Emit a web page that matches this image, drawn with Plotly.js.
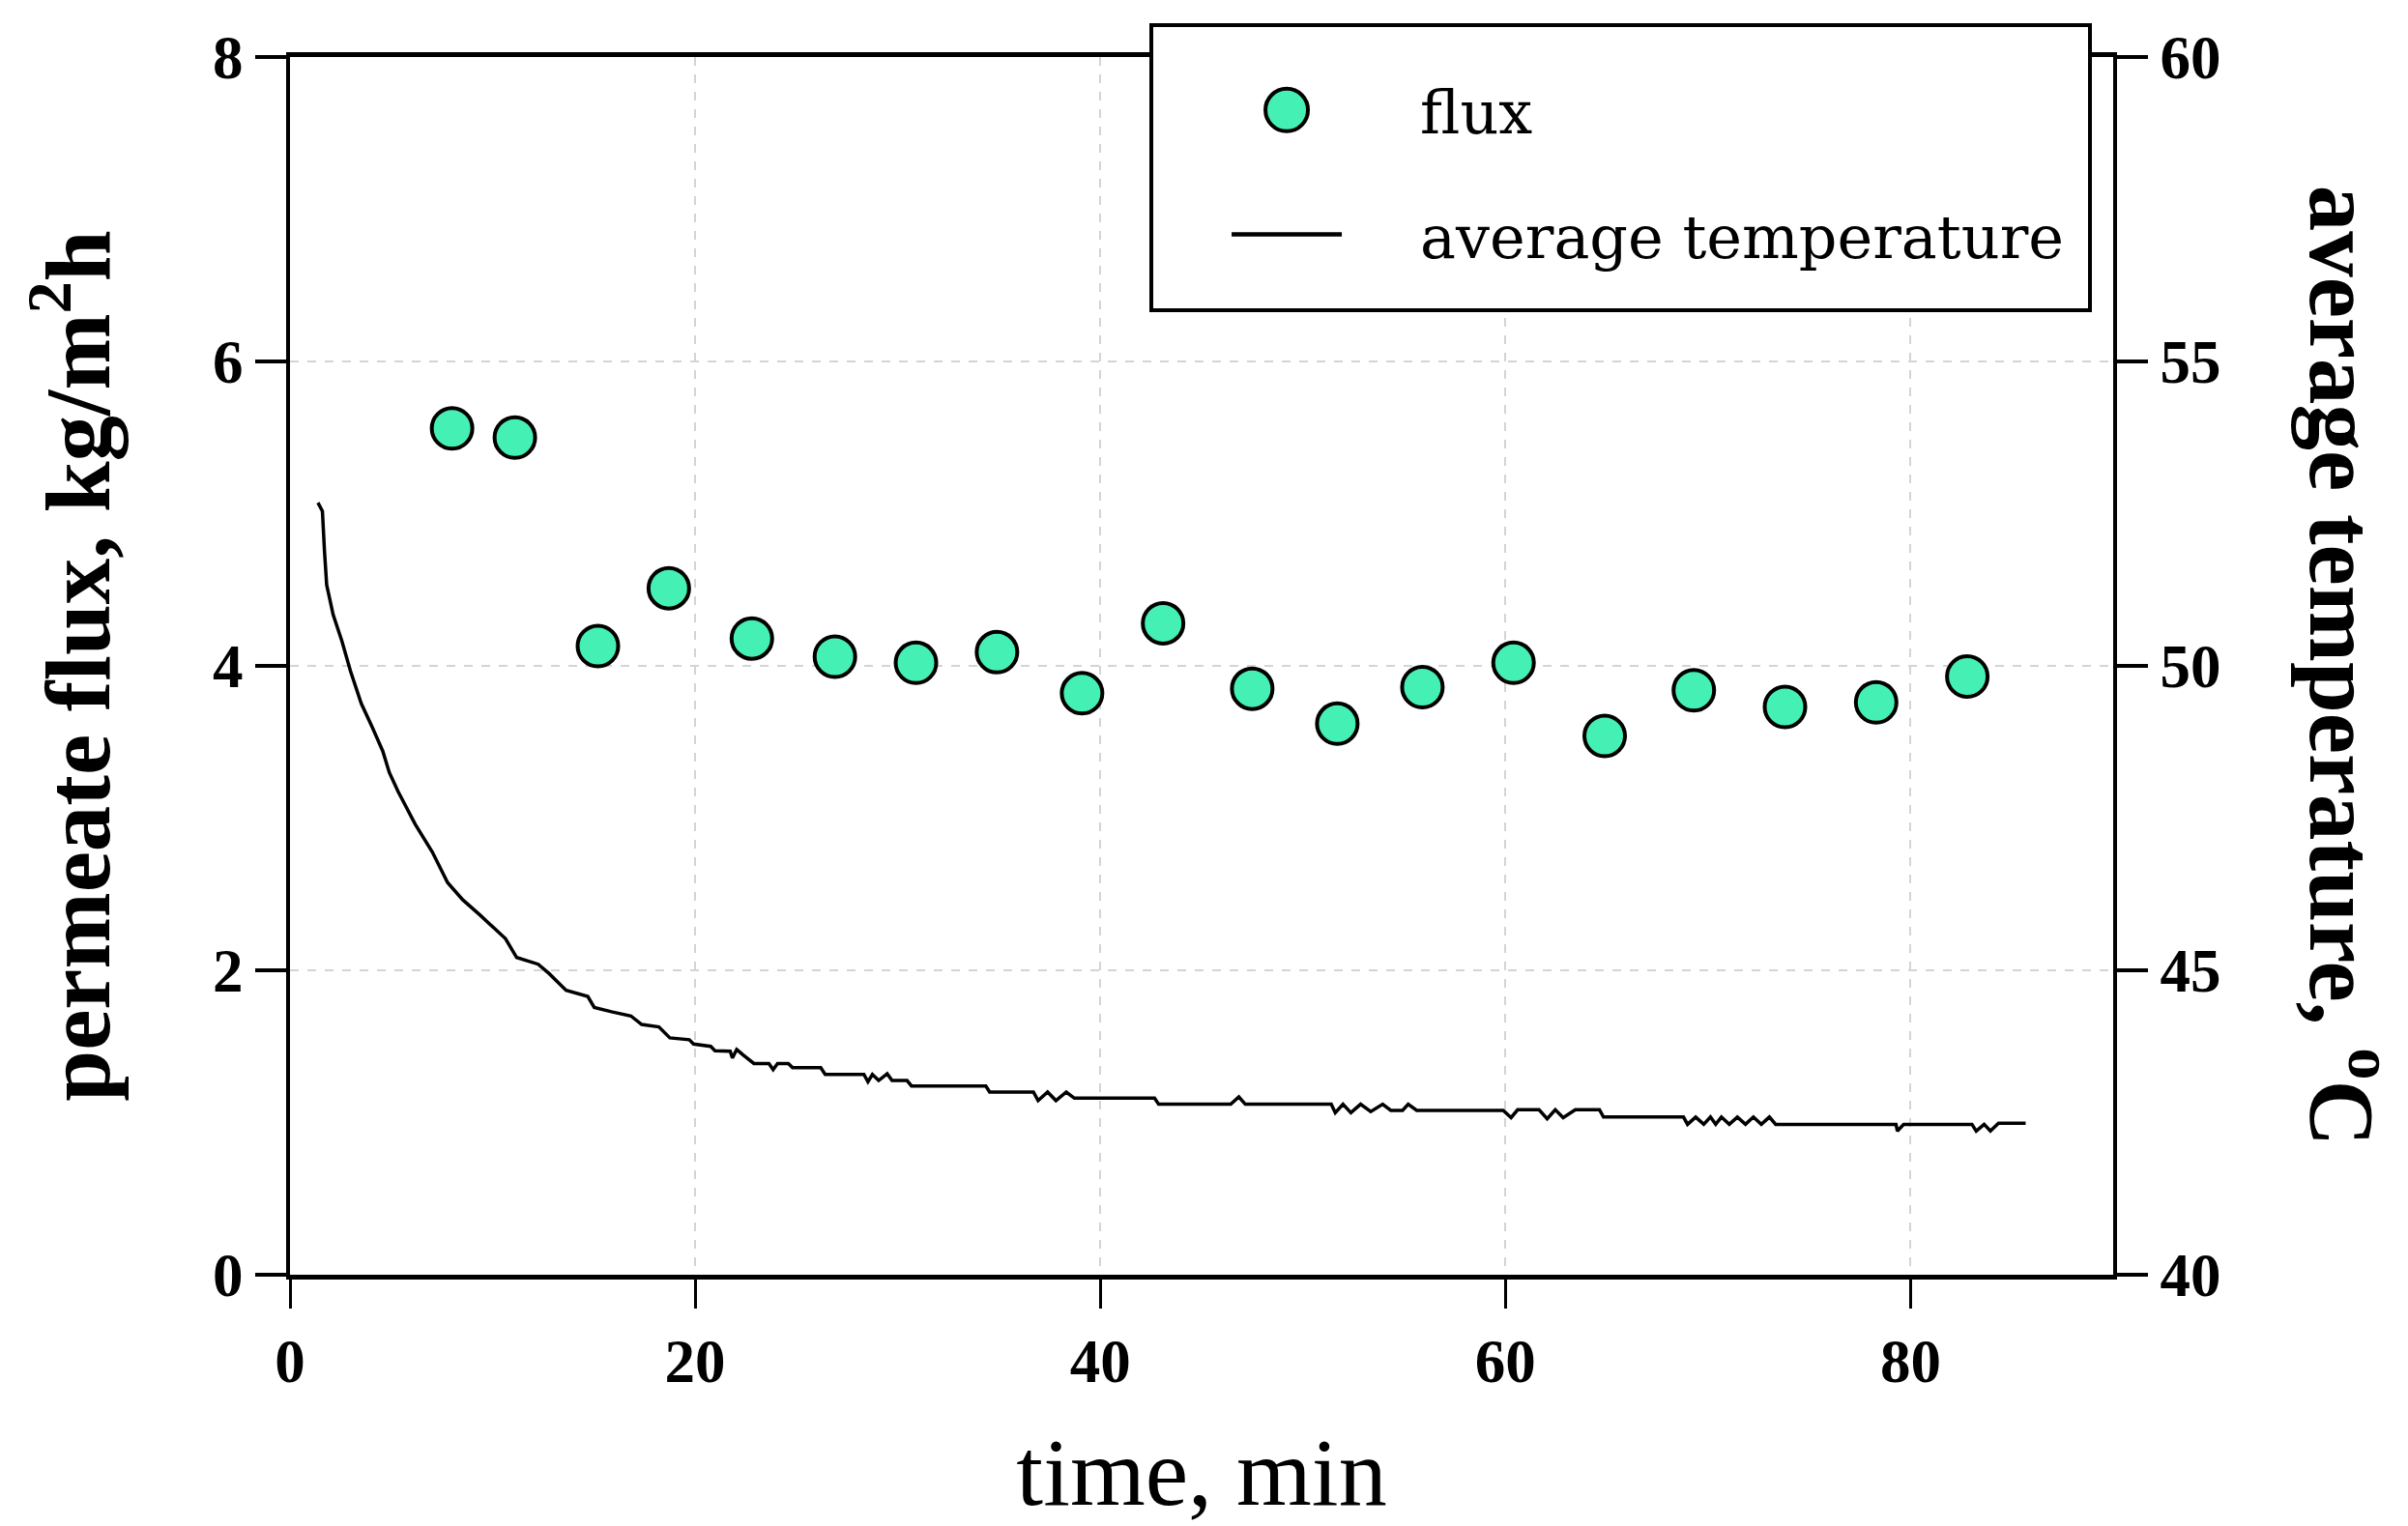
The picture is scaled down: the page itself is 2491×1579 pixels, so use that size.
<!DOCTYPE html>
<html>
<head>
<meta charset="utf-8">
<script src="https://cdn.plot.ly/plotly-3.0.1.min.js"></script>
<style>
  html, body { margin: 0; padding: 0; background: #fff; }
  #chart { width: 2491px; height: 1579px; }
</style>
</head>
<body>
<div id="chart"></div>
<script>
// flux measurements (kg/m2h) vs time (min)
const fluxTime = [8.0, 11.1, 15.2, 18.7, 22.8, 26.9, 30.9, 34.9, 39.1, 43.1,
                  47.5, 51.7, 55.9, 60.4, 64.9, 69.3, 73.8, 78.3, 82.8];
const fluxValue = [5.56, 5.50, 4.13, 4.51, 4.18, 4.06, 4.02, 4.09, 3.82, 4.28,
                   3.85, 3.62, 3.86, 4.02, 3.54, 3.84, 3.73, 3.76, 3.93];

// average temperature (°C) vs time (min)
const tempTime = [1.38, 1.6, 1.70, 1.81, 2.13, 2.56, 2.98, 3.52, 4.05, 4.58,
                  4.90, 5.33, 6.18, 7.03, 7.78, 8.52, 9.37, 10.12, 10.64, 11.19,
                  12.25, 12.78, 13.63, 14.70, 15.02, 15.87, 16.83, 17.36, 18.21, 18.75,
                  19.71, 19.92, 20.77, 20.98, 21.73, 21.84, 22.05, 22.37, 22.9, 23.64,
                  23.85, 24.07, 24.6, 24.81, 26.2, 26.42, 28.33, 28.53, 28.75, 29.06,
                  29.48, 29.72, 30.46, 30.68, 34.35, 34.54, 36.7, 36.93, 37.4, 37.81,
                  38.32, 38.72, 42.68, 42.88, 46.44, 46.84, 47.16, 51.4, 51.6, 51.98,
                  52.37, 52.85, 53.35, 53.94, 54.34, 54.92, 55.2, 55.62, 59.89, 60.28,
                  60.6, 61.66, 62.06, 62.46, 62.85, 63.45, 64.64, 64.84, 68.79, 68.99,
                  69.39, 69.79, 70.12, 70.38, 70.66, 71.05, 71.45, 71.85, 72.24, 72.63,
                  73.03, 73.34, 79.28, 79.35, 79.66, 83.03, 83.24, 83.63, 83.94, 84.34,
                  85.68];
const tempValue = [52.68, 52.54, 51.90, 51.33, 50.84, 50.41, 49.92, 49.38, 49.0, 48.60,
                   48.25, 47.94, 47.40, 46.94, 46.44, 46.16, 45.91, 45.67, 45.52, 45.21,
                   45.10, 44.95, 44.67, 44.57, 44.39, 44.32, 44.25, 44.11, 44.07, 43.89,
                   43.86, 43.79, 43.75, 43.68, 43.67, 43.56, 43.70, 43.61, 43.47, 43.47,
                   43.37, 43.47, 43.47, 43.40, 43.40, 43.29, 43.29, 43.17, 43.29, 43.19,
                   43.30, 43.19, 43.19, 43.10, 43.10, 43.00, 43.00, 42.86, 43.00, 42.86,
                   43.00, 42.90, 42.90, 42.80, 42.80, 42.92, 42.80, 42.80, 42.66, 42.80,
                   42.66, 42.80, 42.68, 42.80, 42.70, 42.70, 42.80, 42.70, 42.70, 42.58,
                   42.71, 42.71, 42.56, 42.71, 42.58, 42.71, 42.71, 42.59, 42.59, 42.47,
                   42.59, 42.47, 42.59, 42.47, 42.59, 42.47, 42.59, 42.47, 42.59, 42.47,
                   42.59, 42.47, 42.47, 42.36, 42.47, 42.47, 42.36, 42.47, 42.36, 42.49,
                   42.49];

const xTicks = [0, 20, 40, 60, 80];
const yTicks = [0, 2, 4, 6, 8];
const y2Ticks = [40, 45, 50, 55, 60];

const serif = "Liberation Serif, Times New Roman, serif";
const tickFont = { family: serif, size: 63, color: "#000", weight: "bold" };
const titleFont = { family: serif, size: 95, color: "#000", weight: "bold" };

var traces = [
  {
    x: fluxTime,
    y: fluxValue,
    type: "scatter",
    mode: "markers",
    name: "flux",
    legendgroup: "a",
    marker: { color: "#45F0B4", size: 42, line: { color: "#000", width: 4 } },
    yaxis: "y",
  },
  {
    x: tempTime,
    y: tempValue,
    type: "scatter",
    mode: "lines",
    name: "average temperature\u00a0",
    legendgroup: "b",
    line: { color: "#000", width: 3.5 },
    yaxis: "y2",
  },
];

var layout = {
  width: 2491,
  height: 1579,
  paper_bgcolor: "#fff",
  plot_bgcolor: "#fff",
  margin: { l: 300, r: 305, t: 59, b: 260, pad: 0 },
  showlegend: true,
  legend: {
    x: 0.4714,
    y: 0.9968,
    xanchor: "left",
    yanchor: "top",
    bgcolor: "#fff",
    bordercolor: "#000",
    borderwidth: 4,
    itemwidth: 266,
    traceorder: "grouped",
    tracegroupgap: 45,
    font: { family: "DejaVu Serif, serif", size: 62, color: "#000" },
  },
  xaxis: {
    range: [0, 90],
    tickvals: xTicks,
    ticktext: xTicks.map(String),
    ticks: "outside",
    ticklen: 30,
    tickwidth: 3,
    tickcolor: "#000",
    showline: true,
    linecolor: "#000",
    linewidth: 5,
    mirror: true,
    showgrid: true,
    gridcolor: "#d4d4d4",
    gridwidth: 2,
    griddash: "dash",
    zeroline: false,
    tickfont: tickFont,
    title: {
      text: "time, min",
      font: { family: serif, size: 100, color: "#000" },
      standoff: 46,
    },
  },
  yaxis: {
    range: [0, 8],
    tickvals: yTicks,
    ticktext: yTicks.map(String),
    ticks: "outside",
    ticklen: 32,
    tickwidth: 4,
    tickcolor: "#000",
    showline: true,
    linecolor: "#000",
    linewidth: 4,
    showgrid: true,
    gridcolor: "#d4d4d4",
    gridwidth: 2,
    griddash: "dash",
    zeroline: false,
    tickfont: tickFont,
    title: {
      text: "permeate flux, kg/m<sup>2</sup>h",
      font: titleFont,
      standoff: 76,
    },
  },
  yaxis2: {
    overlaying: "y",
    side: "right",
    range: [40, 60],
    tickvals: y2Ticks,
    ticktext: y2Ticks.map(String),
    ticks: "outside",
    ticklen: 32,
    tickwidth: 4,
    tickcolor: "#000",
    showline: true,
    linecolor: "#000",
    linewidth: 4,
    showgrid: false,
    zeroline: false,
    tickfont: tickFont,
  },
  // right axis title reads top-to-bottom in the original, so it is an annotation
  annotations: [
    {
      text: "average temperature, <sup>o</sup>C",
      xref: "paper",
      yref: "paper",
      x: 1.129,
      y: 0.5,
      xanchor: "center",
      yanchor: "middle",
      textangle: 90,
      showarrow: false,
      font: titleFont,
    },
  ],
};

Plotly.newPlot("chart", traces, layout, { displayModeBar: false, staticPlot: true })
  .then(function (gd) {
    // roomier legend frame and full-size symbols, as in the figure
    var bg = gd.querySelector(".legend rect.bg");
    if (bg) {
      var y0 = parseFloat(bg.getAttribute("y")) || 0;
      var h = parseFloat(bg.getAttribute("height"));
      bg.setAttribute("y", y0 - 39);
      bg.setAttribute("height", h + 68);
    }
    gd.querySelectorAll(".legend .legendpoints path.scatterpts").forEach(function (p) {
      p.setAttribute("d", "M22,0A22,22 0 1,1 0,-22A22,22 0 0,1 22,0Z");
      p.style.strokeWidth = "4px";
    });
    gd.querySelectorAll(".legend .legendlines path").forEach(function (p) {
      var b = p.getBBox();
      var cx = b.x + b.width / 2;
      p.setAttribute("d", "M" + (cx - 57) + ",0h114");
      p.style.strokeWidth = "4.5px";
    });
  });
</script>
</body>
</html>
